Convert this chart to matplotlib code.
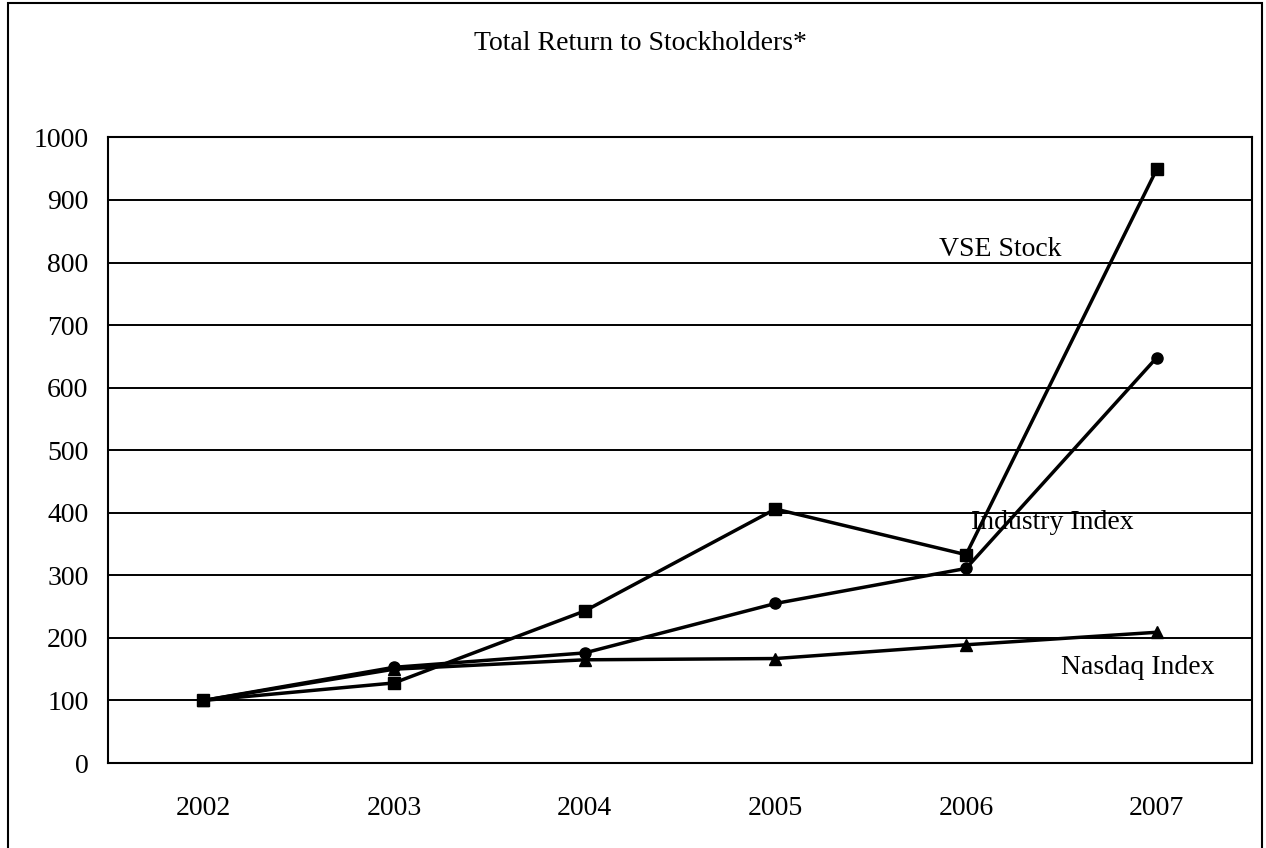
import matplotlib
matplotlib.use("Agg")
import matplotlib.pyplot as plt
from matplotlib.patches import Rectangle

# values
years = ["2002", "2003", "2004", "2005", "2006", "2007"]
vse_stock = [100, 128, 243, 406, 333, 949]
industry_index = [100, 153, 176, 255, 311, 648]
nasdaq_index = [100, 150, 165, 167, 189, 209]
y_ticks = [0, 100, 200, 300, 400, 500, 600, 700, 800, 900, 1000]

plt.rcParams['font.family'] = ['Liberation Serif', 'DejaVu Serif']

fig = plt.figure(figsize=(12.66, 8.48), dpi=100)
ax = fig.add_axes([0.0853, 0.1002, 0.9037, 0.7378])

x = list(range(len(years)))

# gridlines first so the series sit on top
ax.set_axisbelow(True)
ax.yaxis.grid(True, color='black', linewidth=1.4)

ax.plot(x, vse_stock, color='black', linewidth=2.5, marker='s', markersize=8.5)
ax.plot(x, industry_index, color='black', linewidth=2.5, marker='o', markersize=8)
ax.plot(x, nasdaq_index, color='black', linewidth=2.5, marker='^', markersize=8.5)

# series labels sit inside the plot
ax.text(4.18, 820, "VSE Stock", fontsize=20, ha='center', va='center')
ax.text(4.45, 384, "Industry Index", fontsize=20, ha='center', va='center')
ax.text(4.9, 152, "Nasdaq Index", fontsize=20, ha='center', va='center')

ax.set_xlim(-0.5, 5.5)
ax.set_ylim(0, 1000)
ax.set_xticks(x)
ax.set_xticklabels(years)
ax.set_yticks(y_ticks)
ax.tick_params(axis='both', length=0, labelsize=20, colors='black')
ax.tick_params(axis='x', pad=24)
ax.tick_params(axis='y', pad=14)

for side in ['left', 'bottom', 'top', 'right']:
    ax.spines[side].set_color('black')
    ax.spines[side].set_linewidth(1.5)

fig.text(0.506, 0.949, "Total Return to Stockholders*", fontsize=20,
         ha='center', va='center')

# outer frame around the whole chart
frame = Rectangle((0.0065, -0.01), 0.9905, 1.007, transform=fig.transFigure,
                  fill=False, edgecolor='black', linewidth=1.5)
fig.patches.append(frame)

fig.savefig("out.png", dpi=100)
